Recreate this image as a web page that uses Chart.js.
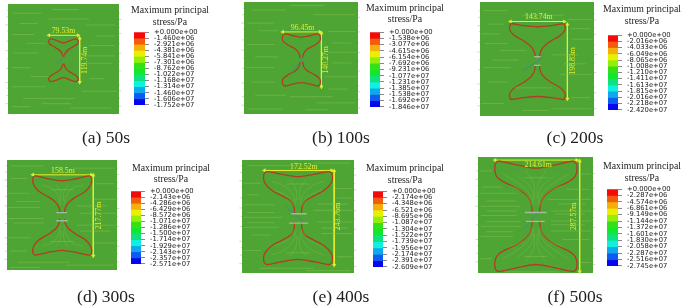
<!DOCTYPE html>
<html>
<head>
<meta charset="utf-8">
<title>Maximum principal stress</title>
<script src="https://cdn.jsdelivr.net/npm/chart.js@4"></script>
<style>
  html, body { margin: 0; padding: 0; background: #fff; }
  #page { position: relative; width: 685px; height: 307px; overflow: hidden; filter: blur(0.5px); }
  #page canvas { position: absolute; }
  .title, .caption { position: absolute; font-family: "Liberation Serif", serif; color: #222; white-space: nowrap; transform: translate(-50%, -50%); }
  .title { font-size: 9.8px; }
  .caption { font-size: 17.5px; }
</style>
</head>
<body>
<div id="page"></div>
<script>
// captions
const captions = ['(a) 50s', '(b) 100s', '(c) 200s', '(d) 300s', '(e) 400s', '(f) 500s'];

// measured crack size (m)
const crackWidths = [79.53, 96.45, 143.74, 158.5, 172.52, 214.61];
const crackHeights = [119.74, 140.27, 198.83, 217.77, 243.76, 287.57];

// upper right quarter of each crack outline, notch to neck (m)
const outlineA = [[0, 47], [17, 53], [34, 58], [40, 53], [38, 45], [28, 38], [13, 29], [5, 20], [1, 9]];
const outlineB = [[0, 59], [22, 63], [43, 68], [49, 61], [48, 50], [35, 39], [15, 28], [6, 17], [3.5, 5]];
const outlineC = [[0, 93], [37, 96], [69, 101], [74, 95], [73, 83], [60, 69], [33, 53], [15, 38], [7, 22], [6, 9]];
const outlineD = [[0, 94], [40, 100], [72, 107], [79, 102], [77, 83], [62, 65], [35, 49], [17, 35], [8, 20], [6, 9]];
const outlineE = [[0, 107], [47, 114], [80, 120], [88, 112], [86, 92], [69, 73], [39, 56], [17, 43], [10, 26], [9, 11]];
const outlineF = [[0, 125], [43, 132], [97, 143], [106, 137], [108, 121], [103, 104], [88, 91], [67, 81], [41, 68], [22, 52], [13, 35], [10, 17], [10, 10]];
const outlines = [outlineA, outlineB, outlineC, outlineD, outlineE, outlineF];

// injection wire across the neck (m)
const wires = [
  [[-19, -11], [22, 33]],
  [[-24, -33], [9, 13]],
  [[-38, -24], [12, 9]],
  [[-32, -30], [-28, -27]],
  [[-32, 30], [13, -9]],
  [[-30, -32], [6, 10]]
];

// grey neck pieces [x1, x2, y] (m)
const neckPieces = [
  [],
  [],
  [[-9, 9, 13], [-9, 9, -10]],
  [[-16, 13, 8], [-16, 15, -14]],
  [[-17, 22, 11], [-23, 26, -13]],
  [[-29, 28, 10], [-26, 23, -13]]
];

// pale mesh streaks on the field [x1, x2, y] (m)
const streaksA = [[-140, -60, 128], [-40, 70, 112], [60, 140, 96], [-140, -80, 70], [70, 140, 40], [-135, -70, 20], [60, 130, -8], [-140, -50, -72], [50, 145, -84], [-110, 30, -104], [-140, -90, -126], [20, 130, -130], [-30, 40, 138], [-120, -70, 100], [-100, -50, 46], [-140, -90, -20], [-90, -40, -44], [70, 110, -50], [60, 140, 12], [90, 140, 66], [-60, 20, -118]];
const streaksB = [[-130, -40, 130], [30, 140, 118], [-140, -70, 96], [70, 140, 74], [-140, -70, 40], [70, 145, 20], [-145, -70, -20], [60, 145, -44], [-120, -40, -92], [-30, 80, -96], [40, 140, -112], [-140, -50, -128], [-30, 60, 142], [-110, -60, 76], [80, 130, 44], [-120, -60, 8], [80, 130, -8], [-130, -70, -58], [70, 120, -76], [10, 70, -130]];
const streaksC = [[-145, -80, 136], [-40, 70, 124], [80, 145, 112], [-150, -100, 74], [90, 148, 60], [-100, -30, 30], [40, 110, 18], [-145, -70, -16], [60, 145, -34], [-60, 40, -70], [-150, -90, -112], [40, 145, -126], [-130, -90, 100], [90, 140, 88], [-140, -80, 48], [-120, -50, 4], [70, 130, -6], [-130, -80, -54], [-40, 30, -130], [90, 140, -96]];
const streaksD = [[-140, -50, 134], [30, 140, 128], [-145, -90, 60], [85, 145, 44], [-145, -60, 22], [50, 145, 6], [-145, -50, -8], [40, 145, -26], [-145, -85, -60], [85, 145, -74], [-120, 20, -126], [10, 140, -134], [-140, -60, -140], [-140, -95, 100], [90, 140, 86], [-125, -60, 38], [40, 120, 26], [-130, -50, -20], [50, 130, -42], [-140, -95, -96], [-30, 30, 70], [-30, 30, -70]];
const streaksE = [[-130, 0, 136], [40, 135, 142], [-140, -95, 90], [95, 140, 76], [-140, -60, 34], [40, 140, 20], [-140, -40, 2], [50, 140, -10], [-140, -50, -24], [60, 140, -40], [-140, -95, -84], [-100, 40, -130], [20, 135, -136], [-130, -100, 60], [100, 140, 52], [-130, -60, 14], [50, 130, 36], [-130, -60, -12], [60, 130, -26], [-120, -70, -44], [100, 140, -100], [-30, 30, 88], [-30, 30, -90]];
const streaksF = [[-145, -115, 118], [115, 145, 110], [-145, -50, 60], [30, 145, 44], [-145, -40, 26], [40, 145, 14], [-145, -50, 2], [40, 145, -12], [-145, -40, -26], [40, 145, -38], [-145, -60, -52], [-145, -115, -110], [115, 145, -120], [-80, 60, -144], [-140, -90, 76], [80, 140, 70], [-130, -50, 40], [60, 130, 32], [-130, -50, 14], [50, 130, 6], [-130, -40, -14], [40, 130, -22], [-130, -60, -40], [70, 140, -60], [-30, 30, 100], [-30, 30, -104]];
const streaks = [streaksA, streaksB, streaksC, streaksD, streaksE, streaksF];

// pale flow lines fanning out from the neck, one quarter (m)
const fansD = [[[5, 30], [12, 55], [30, 75], [55, 82]], [[3, 40], [5, 65], [16, 84]]];
const fansE = [[[6, 36], [14, 62], [38, 84], [68, 96]], [[3, 46], [6, 76], [22, 100]], [[9, 30], [26, 56], [62, 72]]];
const fansF = [[[7, 30], [16, 58], [44, 84], [86, 110]], [[3, 46], [6, 84], [26, 118]], [[5, 36], [12, 72], [50, 108]], [[9, 26], [28, 60], [72, 80]]];
const fans = [[], [], [], fansD, fansE, fansF];

// mesh marks sticking out of the field sides, y (m)
const sideMarksY = [135, 118, 96, 80, 52, 26, 4, -22, -60, -76, -96, -118];

// legend values (Pa)
const stressA = [0, -1.460e6, -2.921e6, -4.381e6, -5.841e6, -7.301e6, -8.762e6, -1.022e7, -1.168e7, -1.314e7, -1.460e7, -1.606e7, -1.752e7];
const stressB = [0, -1.538e6, -3.077e6, -4.615e6, -6.154e6, -7.692e6, -9.231e6, -1.077e7, -1.231e7, -1.385e7, -1.538e7, -1.692e7, -1.846e7];
const stressC = [0, -2.016e6, -4.033e6, -6.049e6, -8.065e6, -1.008e7, -1.210e7, -1.411e7, -1.613e7, -1.815e7, -2.016e7, -2.218e7, -2.420e7];
const stressD = [0, -2.143e6, -4.286e6, -6.429e6, -8.572e6, -1.071e7, -1.286e7, -1.500e7, -1.714e7, -1.929e7, -2.143e7, -2.357e7, -2.571e7];
const stressE = [0, -2.174e6, -4.348e6, -6.521e6, -8.695e6, -1.087e7, -1.304e7, -1.522e7, -1.739e7, -1.956e7, -2.174e7, -2.391e7, -2.609e7];
const stressF = [0, -2.287e6, -4.574e6, -6.861e6, -9.149e6, -1.144e7, -1.372e7, -1.601e7, -1.830e7, -2.058e7, -2.287e7, -2.516e7, -2.745e7];
const stressLevels = [stressA, stressB, stressC, stressD, stressE, stressF];

// legend colours, top to bottom
const LEGEND_COLORS = ['#f50a0a', '#f25c0c', '#f5ae0a', '#e6f000', '#92ee0a', '#35e015', '#10e830', '#0fe080', '#0ff0e0', '#0fa8ee', '#0b5cf0', '#0505f0'];

const FIELD_COLOR = '#4fa534';
const STREAK_COLOR = 'rgba(140, 200, 85, 0.42)';
const FAN_COLOR = 'rgba(140, 200, 85, 0.4)';
const CRACK_COLOR = '#b23d22';
const DIM_COLOR = '#e4ee2c';
const WIRE_COLOR = '#3c8c8c';
const NECK_COLOR = '#a8b8a0';

// margin round a field canvas, room for the side marks
const MARGIN = 14;

// field rectangles in the page [left, top, width, height] and data range [xMin, xMax, yMin, yMax]
const fieldRects = [[8, 4, 111, 110], [244, 2, 114, 112], [480, 2, 114, 114], [7, 160, 110, 110], [242, 160, 112, 113], [478, 157, 115, 116]];
const fieldRanges = [[-151, 151, -146, 153], [-149, 147, -141, 151], [-153, 151, -145, 159], [-149, 148, -147, 150], [-144, 144, -142, 150], [-152, 150, -147, 154]];

// dimension line positions: [width line y, width text x, width text y, height line x, height text x, height text y]
const dimPlaces = [[68, 0, 80, 44, 58, 0], [73, 3, 83, 52, 65, 0], [107, 4, 118, 80, 95, 2], [110, 2, 121, 84, 100, 0], [123, 15, 133, 93, 103, 4], [146, 6, 133, 115, 100, 0]];

// legend bars [left, top, width, height], text centres
const legendRects = [[134, 29, 11, 79], [370, 29, 10, 81], [608, 32, 10, 81], [131, 188, 10, 79], [373, 188, 10, 82], [607, 186, 11, 83]];
const titlePlaces = [[170, 9, 21], [405, 6.5, 18], [642, 8, 20], [171, 167, 178], [405, 167, 179], [642, 165, 177]];
const captionPlaces = [[106, 137], [341, 137], [575, 137], [106, 296], [341, 296], [575, 296]];

const page = document.getElementById('page');

/*
  field background
*/
const fieldPlugin = {
  id: 'field',
  beforeDatasetsDraw(chart) {
    const area = chart.chartArea;
    chart.ctx.fillStyle = FIELD_COLOR;
    chart.ctx.fillRect(area.left, area.top, area.width, area.height);
  }
};

/*
  dimension texts
*/
function dimTextPlugin(index) {
  return {
    id: 'dimText',
    afterDatasetsDraw(chart) {
      const ctx = chart.ctx;
      const place = dimPlaces[index];
      ctx.save();
      ctx.fillStyle = DIM_COLOR;
      ctx.font = '7.8px "Liberation Serif", serif';
      ctx.textAlign = 'center';
      ctx.textBaseline = 'middle';
      ctx.fillText(crackWidths[index] + 'm', chart.scales.x.getPixelForValue(place[1]), chart.scales.y.getPixelForValue(place[2]));
      ctx.translate(chart.scales.x.getPixelForValue(place[4]), chart.scales.y.getPixelForValue(place[5]));
      ctx.rotate(-Math.PI / 2);
      ctx.fillText(crackHeights[index] + 'm', 0, 0);
      ctx.restore();
    }
  };
}

// one line dataset
function lineSet(points, color, width, extra) {
  return Object.assign({
    data: points,
    showLine: true,
    borderColor: color,
    borderWidth: width,
    pointRadius: 0,
    clip: false
  }, extra || {});
}

// segments [x1, x2, y] to points broken by gaps
function segmentPoints(segments) {
  let points = [];
  segments.forEach(s => {
    points.push({ x: s[0], y: s[2] }, { x: s[1], y: s[2] }, { x: null, y: null });
  });
  return points;
}

/*
  one field chart
*/
function drawField(index) {
  const rect = fieldRects[index];
  const range = fieldRanges[index];
  const quarter = outlines[index];
  const place = dimPlaces[index];
  const halfW = crackWidths[index] / 2;
  const halfH = crackHeights[index] / 2;

  // crack: upper and lower half, each left neck to right neck
  const leftSide = quarter.slice(1).reverse().map(p => ({ x: -p[0], y: p[1] }));
  const rightSide = quarter.map(p => ({ x: p[0], y: p[1] }));
  const upper = leftSide.concat(rightSide);
  const lower = upper.map(p => ({ x: p.x, y: -p.y }));

  let datasets = [];
  datasets.push(lineSet(segmentPoints(streaks[index]), STREAK_COLOR, 1, { spanGaps: false }));

  // side marks
  let marks = [];
  sideMarksY.forEach((y, i) => {
    marks.push([range[0] - 3 - (i % 3) * 2, range[0], y], [range[1], range[1] + 3 + (i % 2) * 3, y - 7]);
  });
  datasets.push(lineSet(segmentPoints(marks), 'rgba(130, 190, 100, 0.45)', 1, { spanGaps: false }));

  // flow lines in all four quadrants
  fans[index].forEach(line => {
    [[1, 1], [-1, 1], [1, -1], [-1, -1]].forEach(sign => {
      datasets.push(lineSet(line.map(p => ({ x: p[0] * sign[0], y: p[1] * sign[1] })), FAN_COLOR, 0.7, { tension: 0.4 }));
    });
  });

  datasets.push(lineSet(segmentPoints(neckPieces[index]), NECK_COLOR, 1.4, { spanGaps: false }));
  datasets.push(lineSet(wires[index].map(p => ({ x: p[0], y: p[1] })), WIRE_COLOR, 1));
  datasets.push(lineSet(upper, CRACK_COLOR, 1.3, { tension: 0.3 }));
  datasets.push(lineSet(lower, CRACK_COLOR, 1.3, { tension: 0.3 }));

  // dimension lines
  datasets.push(lineSet([{ x: -halfW, y: place[0] }, { x: halfW, y: place[0] }], DIM_COLOR, 1, {
    pointStyle: 'triangle', pointRadius: 2.4, pointRotation: [-90, 90], pointBackgroundColor: DIM_COLOR, pointBorderWidth: 0
  }));
  datasets.push(lineSet([{ x: place[3], y: halfH }, { x: place[3], y: -halfH }], DIM_COLOR, 1, {
    pointStyle: 'triangle', pointRadius: 2.4, pointRotation: [0, 180], pointBackgroundColor: DIM_COLOR, pointBorderWidth: 0
  }));

  let canvas = document.createElement('canvas');
  canvas.width = rect[2] + MARGIN * 2;
  canvas.height = rect[3] + MARGIN * 2;
  canvas.style.left = (rect[0] - MARGIN) + 'px';
  canvas.style.top = (rect[1] - MARGIN) + 'px';
  page.appendChild(canvas);

  new Chart(canvas, {
    type: 'scatter',
    data: { datasets: datasets },
    options: {
      responsive: false,
      animation: false,
      events: [],
      layout: { padding: MARGIN },
      plugins: { legend: { display: false }, tooltip: { enabled: false } },
      scales: {
        x: { display: false, min: range[0], max: range[1] },
        y: { display: false, min: range[2], max: range[3] }
      }
    },
    plugins: [fieldPlugin, dimTextPlugin(index)]
  });
}

// -1.46e6 -> -1.460e+06
function formatStress(value) {
  if (value === 0) {
    return '+0.000e+00';
  }
  return value.toExponential(3).replace(/e\+(\d)$/, 'e+0$1');
}

/*
  one legend chart
*/
function drawLegend(index) {
  const rect = legendRects[index];
  const levels = stressLevels[index];
  const axisWidth = 56;
  const pad = 6;

  let canvas = document.createElement('canvas');
  canvas.width = rect[2] + axisWidth;
  canvas.height = rect[3] + pad * 2;
  canvas.style.left = rect[0] + 'px';
  canvas.style.top = (rect[1] - pad) + 'px';
  page.appendChild(canvas);

  new Chart(canvas, {
    type: 'bar',
    data: {
      labels: [''],
      datasets: LEGEND_COLORS.map((color, i) => ({
        data: [[levels[i + 1], levels[i]]],
        backgroundColor: color,
        grouped: false,
        barPercentage: 1,
        categoryPercentage: 1
      }))
    },
    options: {
      responsive: false,
      animation: false,
      events: [],
      layout: { padding: { top: pad, bottom: pad, left: 0, right: 0 } },
      plugins: { legend: { display: false }, tooltip: { enabled: false } },
      scales: {
        x: { display: false },
        y: {
          position: 'right',
          min: levels[levels.length - 1],
          max: 0,
          afterBuildTicks: axis => { axis.ticks = levels.map(v => ({ value: v })); },
          afterFit: axis => { axis.width = axisWidth; },
          ticks: {
            autoSkip: false,
            callback: formatStress,
            color: '#222',
            padding: 5,
            font: { family: '"DejaVu Sans", sans-serif', size: 6.8 }
          },
          grid: { drawOnChartArea: false, tickLength: 4, color: '#888' },
          border: { display: false }
        }
      }
    }
  });
}

// html text
function addText(className, text, x, y) {
  let el = document.createElement('div');
  el.className = className;
  el.textContent = text;
  el.style.left = x + 'px';
  el.style.top = y + 'px';
  page.appendChild(el);
}

captions.forEach((caption, i) => {
  drawField(i);
  drawLegend(i);
  addText('title', 'Maximum principal', titlePlaces[i][0], titlePlaces[i][1]);
  addText('title', 'stress/Pa', titlePlaces[i][0], titlePlaces[i][2]);
  addText('caption', caption, captionPlaces[i][0], captionPlaces[i][1]);
});
</script>
</body>
</html>
